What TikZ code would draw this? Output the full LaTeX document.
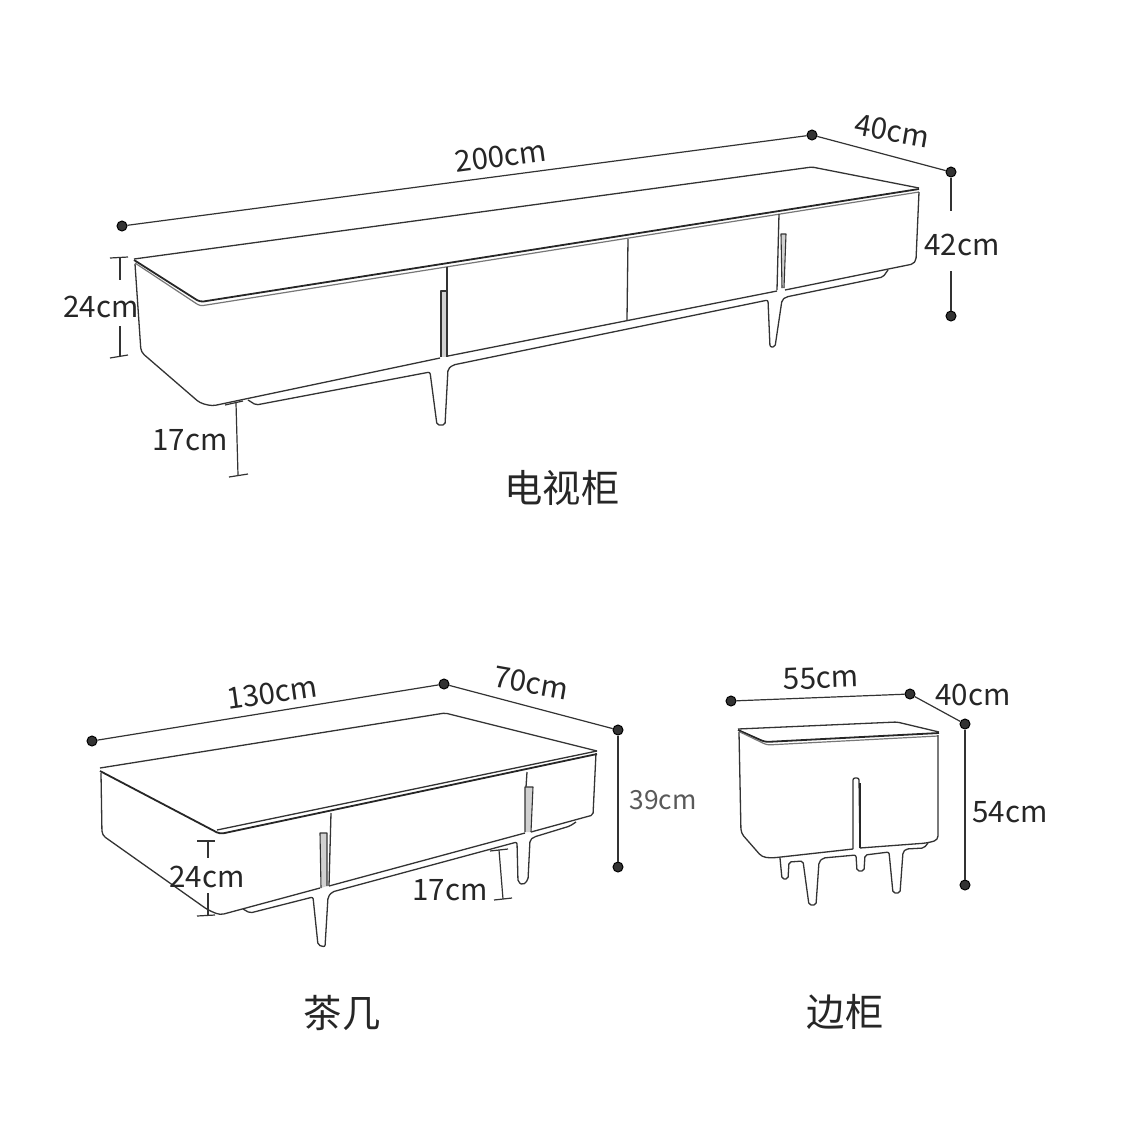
\documentclass[tikz,border=0pt]{standalone}
\usepackage{fontspec}
\setmainfont{Noto Sans CJK SC}
\definecolor{ink}{HTML}{333333}
\definecolor{midg}{HTML}{777777}
\tikzset{
  outline/.style={draw=ink,line width=0.26mm,line join=round,rounded corners=0.4mm},
  softline/.style={draw=midg,line width=0.24mm,line join=round,rounded corners=0.6mm},
  edgeline/.style={draw=black!85,line width=0.36mm,line join=round,rounded corners=0.7mm},
  handlestrip/.style={draw=ink,fill=black!18,line width=0.22mm,line join=round},
  dimdot/.style={circle,fill=ink,draw=black,line width=0.2mm,minimum size=2mm,inner sep=0pt},
  dimline/.style={draw=ink,line width=0.24mm},
  dimtext/.style={text=black!85,font=\fontsize{16.8pt}{18pt}\selectfont,inner sep=0pt},
  titletext/.style={text=black!85,font=\fontsize{21.8pt}{24pt}\selectfont,inner sep=0pt},
}
\begin{document}
\begin{tikzpicture}[x=0.2mm,y=-0.2mm]
\useasboundingbox[fill=white] (0,0) rectangle (1125,1125);

%% ---------- TV cabinet ----------
\draw[outline] (134,259) -- (812,167) -- (919,188);
\draw[edgeline] (134,260) -- (200,302) -- (919,189);
\draw[softline] (135,263) -- (200,306) -- (919,192);
\draw[outline,rounded corners=0.8mm] (135,264) -- (141,352) -- (200,403) -- (212,406) -- (440,358);
\draw[outline] (448,356) -- (777,291);
\draw[outline] (785,290) -- (913,264) -- (916,260) -- (919,192);
\draw[outline] (248,400) -- (256,405) -- (430,372) -- (437,425) -- (445,425) -- (448,369) -- (453,365) -- (768,300) -- (770,347) -- (775,347) -- (782,300) -- (786,297) -- (883,277) -- (888,270);
\draw[outline] (447,267) -- (447,291);
\draw[handlestrip] (441,357) -- (441,291) -- (447,291) -- (447,357);
\draw[outline] (628,239) -- (627,320);
\draw[outline] (779,214) -- (777,290);
\draw[handlestrip] (782,288) -- (781,234) -- (786,234) -- (784,288);

\node[dimdot] (tva) at (122,226) {};
\node[dimdot] (tvb) at (812,135) {};
\node[dimdot] (tvc) at (951,172) {};
\node[dimdot] (tvd) at (951,316) {};
\draw[dimline] (tva) -- (tvb);
\draw[dimline] (tvb) -- (tvc);
\coordinate (tvg1) at (951,211);
\coordinate (tvg2) at (951,271);
\draw[dimline] (tvc) -- (tvg1);
\draw[dimline] (tvg2) -- (tvd);
\node[dimtext,rotate=7.5] (tvw) at (501,156) {200cm};
\node[dimtext,rotate=-10] (tvdp) at (892,131) {40cm};
\node[dimtext] (tvh) at (962,245) {42cm};

\coordinate (tvt1a) at (110,258); \coordinate (tvt1b) at (128,257);
\coordinate (tvt1m) at (120,258); \coordinate (tvt1e) at (120,280);
\coordinate (tvt2m) at (120,326); \coordinate (tvt2e) at (120,356);
\coordinate (tvt2a) at (110,358); \coordinate (tvt2b) at (128,355);
\draw[dimline] (tvt1a) -- (tvt1b);
\draw[dimline] (tvt1m) -- (tvt1e);
\draw[dimline] (tvt2m) -- (tvt2e);
\draw[dimline] (tvt2a) -- (tvt2b);
\node[dimtext] (tvbh) at (101,307) {24cm};

\coordinate (tvl1a) at (225,405); \coordinate (tvl1b) at (243,401);
\coordinate (tvl1m) at (236,403); \coordinate (tvl2m) at (238,475);
\coordinate (tvl2a) at (229,477); \coordinate (tvl2b) at (248,474);
\draw[dimline] (tvl1a) -- (tvl1b);
\draw[dimline] (tvl1m) -- (tvl2m);
\draw[dimline] (tvl2a) -- (tvl2b);
\node[dimtext] (tvlg) at (190,440) {17cm};
\node[titletext] (tvname) at (562,488) {电视柜};

%% ---------- Coffee table ----------
\draw[outline] (100,768) -- (445,713) -- (597,751);
\draw[outline] (217,830) -- (597,751);
\draw[edgeline] (100,771) -- (220,834) -- (597,754);
\draw[outline,rounded corners=0.8mm] (101,773) -- (102,835) -- (208,910) -- (220,915) -- (320,888);
\draw[outline] (329,886) -- (525,833);
\draw[outline] (531,832) -- (593,815) -- (596,753);
\draw[outline] (243,909) -- (250,913) -- (313,897) -- (318,945) -- (325,947) -- (328,897) -- (332,892) -- (517,842) -- (518,882) -- (523,885) -- (528,880) -- (530,840) -- (534,837) -- (570,826) -- (576,822);
\draw[outline] (331,813) -- (329,886);
\draw[handlestrip] (321,888) -- (320,833) -- (327,833) -- (327,886);
\draw[outline] (527,772) -- (526,787);
\draw[handlestrip] (525,832) -- (525,787) -- (533,787) -- (531,832);

\node[dimdot] (cta) at (92,741) {};
\node[dimdot] (ctb) at (444,684) {};
\node[dimdot] (ctc) at (618,730) {};
\node[dimdot] (ctd) at (618,867) {};
\draw[dimline] (cta) -- (ctb);
\draw[dimline] (ctb) -- (ctc);
\draw[dimline] (ctc) -- (ctd);
\node[dimtext,rotate=8] (ctw) at (272,693) {130cm};
\node[dimtext,rotate=-10] (ctdp) at (531,683) {70cm};
\node[dimtext,text=black!65,font=\fontsize{15pt}{18pt}\selectfont] (cth) at (663,800) {39cm};

\coordinate (ctt1a) at (197,841); \coordinate (ctt1b) at (215,841);
\coordinate (ctt1m) at (208,841); \coordinate (ctt1e) at (208,858);
\coordinate (ctt2m) at (208,893); \coordinate (ctt2e) at (208,916);
\coordinate (ctt2a) at (197,916); \coordinate (ctt2b) at (215,915);
\draw[dimline] (ctt1a) -- (ctt1b);
\draw[dimline] (ctt1m) -- (ctt1e);
\draw[dimline] (ctt2m) -- (ctt2e);
\draw[dimline] (ctt2a) -- (ctt2b);
\node[dimtext] (ctbh) at (207,877) {24cm};

\coordinate (ctl1a) at (490,851); \coordinate (ctl1b) at (508,849);
\coordinate (ctl1m) at (499,850); \coordinate (ctl2m) at (503,899);
\coordinate (ctl2a) at (494,900); \coordinate (ctl2b) at (512,898);
\draw[dimline] (ctl1a) -- (ctl1b);
\draw[dimline] (ctl1m) -- (ctl2m);
\draw[dimline] (ctl2a) -- (ctl2b);
\node[dimtext] (ctlg) at (450,890) {17cm};
\node[titletext] (ctname) at (342,1013) {茶几};

%% ---------- Side cabinet ----------
\draw[outline] (738,729) -- (897,722) -- (939,732);
\draw[edgeline] (738,730) -- (765,742) -- (939,733);
\draw[softline] (740,732) -- (767,745) -- (938,736);
\draw[outline,rounded corners=0.8mm] (739,732) -- (741,833) -- (762,857) -- (772,858) -- (853,849);
\draw[outline,rounded corners=0.8mm] (860,848) -- (927,843) -- (938,840) -- (938,735);
\draw[outline] (853,849) -- (853,778) -- (859,778) -- (860,848);
\draw[line width=0.4mm,draw=black!85] (860,783) -- (860,848);
\draw[outline] (780,858) -- (782,879) -- (788,879) -- (789,862) -- (803,861) -- (809,905) -- (816,905) -- (819,862) -- (823,858) -- (856,855) -- (857,871) -- (864,871) -- (865,855) -- (889,852) -- (893,893) -- (900,893) -- (903,852) -- (906,849) -- (924,848) -- (928,843);

\node[dimdot] (sda) at (731,701) {};
\node[dimdot] (sdb) at (910,694) {};
\node[dimdot] (sdc) at (965,724) {};
\node[dimdot] (sdd) at (965,885) {};
\draw[dimline] (sda) -- (sdb);
\draw[dimline] (sdb) -- (sdc);
\draw[dimline] (sdc) -- (sdd);
\node[dimtext,rotate=2] (sdw) at (821,678) {55cm};
\node[dimtext] (sddp) at (973,695) {40cm};
\node[dimtext] (sdh) at (1010,812) {54cm};
\node[titletext] (sdname) at (845,1012) {边柜};
\end{tikzpicture}
\end{document}
